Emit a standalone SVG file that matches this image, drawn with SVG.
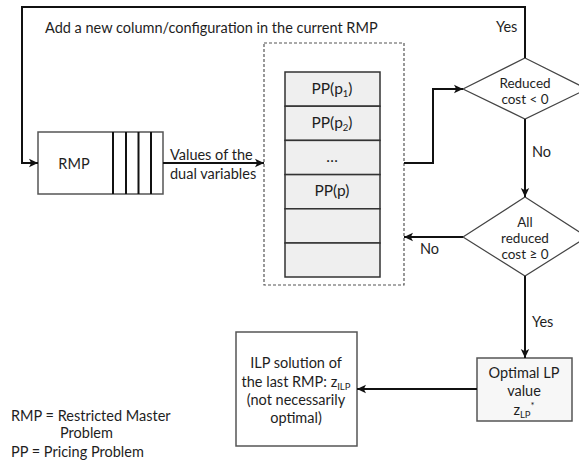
<svg xmlns="http://www.w3.org/2000/svg" width="579" height="466" viewBox="0 0 579 466">
  <style>
    text { font-family: Lato, "Open Sans", "Liberation Sans", sans-serif; fill: #1e1e1e; font-size: 14.5px; }
    .c { text-anchor: middle; }
    .pp { font-size: 15.5px; }
    .d { font-size: 13.5px; }
    .box { fill: #ffffff; stroke: #555; stroke-width: 1.5; }
    .row { fill: #efefef; stroke: #333; stroke-width: 1.5; }
    .dec { fill: #ffffff; stroke: #444; stroke-width: 1.2; }
    .bar { stroke: #111; stroke-width: 2; }
    .edge { fill: none; stroke: #111; stroke-width: 2; }
    .dash { fill: none; stroke: #555; stroke-width: 1.2; stroke-dasharray: 3 2; }
    .sub { font-size: 9.5px; }
  </style>
  <defs>
    <marker id="arrow" markerUnits="userSpaceOnUse" markerWidth="10" markerHeight="10" viewBox="0 0 10 10" refX="9" refY="5" orient="auto">
      <path d="M0,0.8 L9,5 L0,9.2 L2.2,5 Z" fill="#111"/>
    </marker>
  </defs>

  <!-- pricing problems block -->
  <g id="pricing">
    <rect class="dash" x="264" y="43" width="140" height="242"/>
    <rect class="row" x="285" y="72" width="95" height="34.2"/>
    <rect class="row" x="285" y="106.2" width="95" height="34.2"/>
    <rect class="row" x="285" y="140.4" width="95" height="34.2"/>
    <rect class="row" x="285" y="174.6" width="95" height="34.2"/>
    <rect class="row" x="285" y="208.8" width="95" height="34.2"/>
    <rect class="row" x="285" y="243" width="95" height="34"/>
    <text class="c pp" x="332" y="94">PP(p<tspan class="sub" dy="3">1</tspan><tspan dy="-3">)</tspan></text>
    <text class="c pp" x="332" y="128">PP(p<tspan class="sub" dy="3">2</tspan><tspan dy="-3">)</tspan></text>
    <text class="c pp" x="332" y="162">…</text>
    <text class="c pp" x="332" y="196">PP(p)</text>
  </g>

  <!-- restricted master problem -->
  <g id="rmp">
    <rect class="box" x="38" y="132" width="125" height="62"/>
    <line class="bar" x1="113" y1="132" x2="113" y2="194"/>
    <line class="bar" x1="126" y1="132" x2="126" y2="194"/>
    <line class="bar" x1="138.5" y1="132" x2="138.5" y2="194"/>
    <line class="bar" x1="151" y1="132" x2="151" y2="194"/>
    <text class="c" x="74" y="169">RMP</text>
  </g>

  <!-- decision: reduced cost < 0 -->
  <g id="dec-reduced">
    <polygon class="dec" points="525,58 587,89 525,119 463,89"/>
    <text class="c d" x="525" y="88">Reduced</text>
    <text class="c d" x="525" y="104">cost &lt; 0</text>
  </g>

  <!-- decision: all reduced cost >= 0 -->
  <g id="dec-all">
    <polygon class="dec" points="525,197 587,237 525,276 463,237"/>
    <text class="c d" x="525" y="227">All</text>
    <text class="c d" x="525" y="243">reduced</text>
    <text class="c d" x="525" y="259">cost ≥ 0</text>
  </g>

  <!-- optimal LP value -->
  <g id="optimal">
    <rect class="box" x="477" y="358" width="95" height="63" style="fill:#f7f7f7"/>
    <text class="c" x="524" y="378">Optimal LP</text>
    <text class="c" x="524" y="396">value</text>
    <text class="c" x="524" y="415">z<tspan class="sub" dy="3">LP</tspan><tspan class="sub" dy="-9">*</tspan></text>
  </g>

  <!-- ILP solution -->
  <g id="ilp">
    <rect class="box" x="236" y="332" width="121" height="114"/>
    <text class="c" x="296" y="368">ILP solution of</text>
    <text class="c" x="296" y="387">the last RMP: z<tspan class="sub" dy="3">ILP</tspan></text>
    <text class="c" x="296" y="405">(not necessarily</text>
    <text class="c" x="296" y="423">optimal)</text>
  </g>

  <!-- connectors -->
  <g id="connectors">
    <path class="edge" d="M525,58 V7 H22 V163 H38" marker-end="url(#arrow)"/>
    <path class="edge" d="M163,163 H264" marker-end="url(#arrow)"/>
    <path class="edge" d="M404,163 H433 V89 H463" marker-end="url(#arrow)"/>
    <path class="edge" d="M525,119 V197" marker-end="url(#arrow)"/>
    <path class="edge" d="M463,237 H404" marker-end="url(#arrow)"/>
    <path class="edge" d="M525,276 V358" marker-end="url(#arrow)"/>
    <path class="edge" d="M477,389 H357" marker-end="url(#arrow)"/>
  </g>

  <!-- connector labels -->
  <g id="labels">
    <text x="45" y="33">Add a new column/configuration in the current RMP</text>
    <text x="496" y="32">Yes</text>
    <text x="170" y="160">Values of the</text>
    <text x="170" y="179">dual variables</text>
    <text x="532" y="157">No</text>
    <text x="420" y="254">No</text>
    <text x="532" y="327">Yes</text>
  </g>

  <!-- legend -->
  <g id="legend">
    <text x="11" y="421">RMP = Restricted Master</text>
    <text x="60" y="438">Problem</text>
    <text x="11" y="457">PP = Pricing Problem</text>
  </g>
</svg>
